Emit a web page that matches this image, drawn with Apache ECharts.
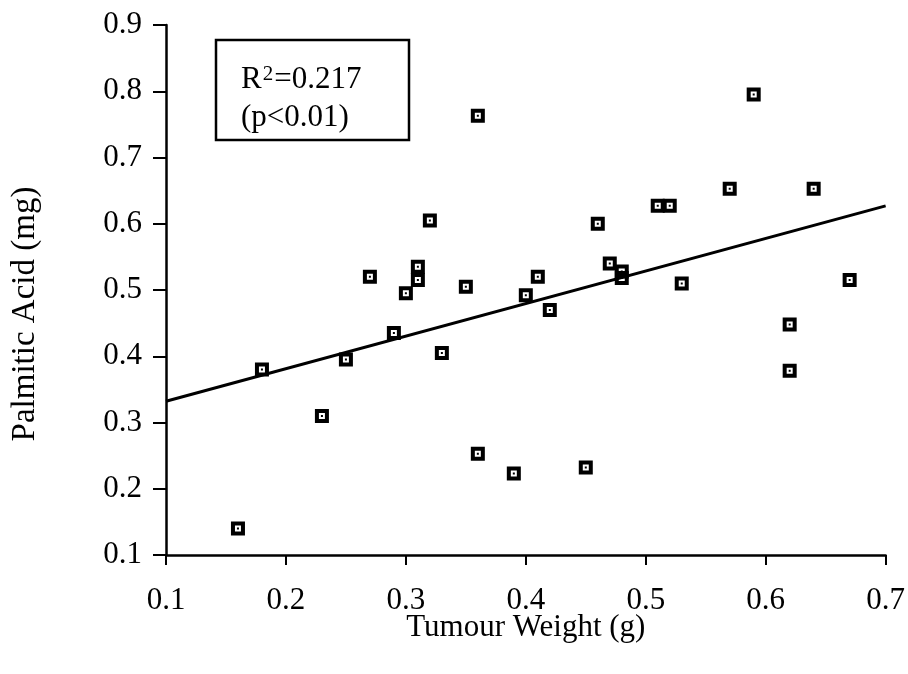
<!DOCTYPE html>
<html>
<head>
<meta charset="utf-8">
<script src="https://cdn.jsdelivr.net/npm/echarts@6/dist/echarts.min.js"></script>
<style>
  html, body { margin: 0; padding: 0; background: #fff; }
  #chart { width: 908px; height: 674px; }
</style>
</head>
<body>
<div id="chart"></div>
<script>
// Tumour weight (g) and palmitic acid content (mg) for each sample
const tumourWeight = [0.16, 0.18, 0.23, 0.25, 0.27, 0.29, 0.30, 0.31, 0.31, 0.32, 0.33, 0.35, 0.36, 0.36, 0.39, 0.40,
                      0.41, 0.42, 0.45, 0.46, 0.47, 0.48, 0.48, 0.51, 0.52, 0.53, 0.57, 0.59, 0.62, 0.62, 0.64, 0.67];
const palmiticAcid = [0.14, 0.38, 0.31, 0.395, 0.52, 0.435, 0.495, 0.535, 0.515, 0.605, 0.405, 0.505, 0.763, 0.253, 0.223, 0.492,
                      0.52, 0.47, 0.232, 0.60, 0.54, 0.528, 0.518, 0.627, 0.627, 0.51, 0.653, 0.795, 0.448, 0.378, 0.653, 0.515];

// Least-squares fit line endpoints
const fitX = [0.1, 0.7];
const fitY = [0.332, 0.627];

const xTicks = ['0.1', '0.2', '0.3', '0.4', '0.5', '0.6', '0.7'];
const yTicks = ['0.1', '0.2', '0.3', '0.4', '0.5', '0.6', '0.7', '0.8', '0.9'];

const FONT = '"Liberation Serif", "Times New Roman", serif';

// Square marker: thick black frame, white centre, small dot inside
const squareMarker = 'path://M0 0H14V14H0Z M4 4V10H10V4Z M6 6H8V8H6Z';

const chart = echarts.init(document.getElementById('chart'), null, { renderer: 'canvas' });

chart.setOption({
  backgroundColor: '#ffffff',
  animation: false,
  grid: { left: 166, right: 22, top: 25, bottom: 119 },
  xAxis: {
    type: 'value',
    min: 0.1, max: 0.7, interval: 0.1,
    name: 'Tumour Weight (g)',
    nameLocation: 'middle',
    nameGap: 57,
    nameMoveOverlap: false,
    nameTextStyle: { fontFamily: FONT, fontSize: 31, color: '#000' },
    axisLine: { show: true, lineStyle: { color: '#000', width: 2.5 } },
    axisTick: { show: true, inside: false, length: 10, lineStyle: { color: '#000', width: 2 } },
    axisLabel: {
      fontFamily: FONT, fontSize: 31, color: '#000', margin: 30,
      formatter: (v) => xTicks[Math.round((v - 0.1) * 10)] ?? ''
    },
    splitLine: { show: false }
  },
  yAxis: {
    type: 'value',
    min: 0.1, max: 0.9, interval: 0.1,
    name: 'Palmitic Acid (mg)',
    nameLocation: 'middle',
    nameGap: 124,
    nameRotate: 90,
    nameMoveOverlap: false,
    nameTextStyle: { fontFamily: FONT, fontSize: 33, color: '#000', padding: [0, 48, 0, 0] },
    axisLine: { show: true, lineStyle: { color: '#000', width: 2.5 } },
    axisTick: { show: true, inside: false, length: 13, lineStyle: { color: '#000', width: 2 } },
    axisLabel: {
      fontFamily: FONT, fontSize: 31, color: '#000', margin: 24,
      formatter: (v) => yTicks[Math.round((v - 0.1) * 10)] ?? ''
    },
    splitLine: { show: false }
  },
  graphic: [
    {
      type: 'rect',
      shape: { x: 216, y: 40, width: 193, height: 100 },
      style: { fill: '#fff', stroke: '#000', lineWidth: 2.5 },
      z: 10
    },
    {
      type: 'text',
      x: 241, y: 57,
      style: {
        text: '{n|R}{s|2}{n|=0.217}\n{n|(p<0.01)}',
        fill: '#000',
        rich: {
          n: { fontFamily: FONT, fontSize: 31, lineHeight: 38, verticalAlign: 'bottom' },
          s: { fontFamily: FONT, fontSize: 21, lineHeight: 38, verticalAlign: 'top', padding: [7, 1, 0, 1] }
        }
      },
      z: 11
    }
  ],
  series: [
    {
      type: 'line',
      data: fitX.map((x, i) => [x, fitY[i]]),
      showSymbol: false,
      lineStyle: { color: '#000', width: 3 },
      z: 2
    },
    {
      type: 'scatter',
      data: tumourWeight.map((x, i) => [x, palmiticAcid[i]]),
      symbol: squareMarker,
      symbolSize: 14,
      itemStyle: { color: '#000', opacity: 1 },
      z: 3
    }
  ]
});
</script>
</body>
</html>
